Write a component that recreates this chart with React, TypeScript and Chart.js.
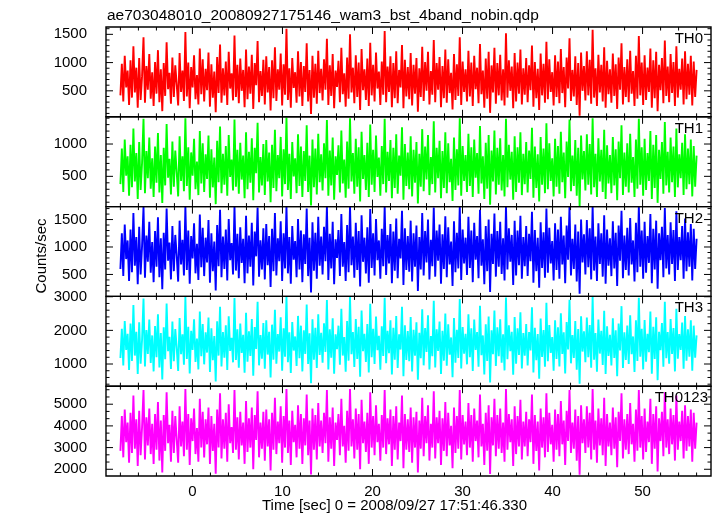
import React, { useEffect, useRef } from "react";
import { Chart, registerables } from "chart.js";

Chart.register(...registerables);

const TITLE = "ae703048010_20080927175146_wam3_bst_4band_nobin.qdp";
const X_LABEL = "Time [sec] 0 = 2008/09/27 17:51:46.330";
const Y_LABEL = "Counts/sec";
const BAND_NAMES = ["TH0", "TH1", "TH2", "TH3", "TH0123"];
const BAND_COLORS = ["#ff0000", "#00ff00", "#0000ff", "#00ffff", "#ff00ff"];
const T_START = -8;
const T_END = 56;
const X_RANGE = [-9.6, 57.6];
const X_TICKS = [0, 10, 20, 30, 40, 50];
const Y_TICKS = [
  [500, 1000, 1500],
  [500, 1000],
  [500, 1000, 1500],
  [1000, 2000, 3000],
  [2000, 3000, 4000, 5000],
];
const Y_RANGES = [
  [40, 1630],
  [32, 1421],
  [100, 1736],
  [340, 3010],
  [1690, 5830],
];
const Y_MAJOR = [500, 500, 500, 1000, 1000];
const Y_SUBS = [5, 5, 5, 5, 3];

const TH0 = [
  420, 980, 310, 1120, 560, 860, 250, 1040, 380, 1290, 470, 910, 200, 1080, 340, 760, 1450, 290, 940, 520,
  1150, 360, 830, 230, 1010, 450, 1220, 300, 880, 140, 990, 410, 1360, 530, 820, 270, 1090, 390, 950, 610,
  240, 1170, 480, 860, 320, 1540, 400, 1000, 190, 920, 560, 1130, 350, 780, 260, 1250, 440, 1060, 310, 890,
  510, 1180, 220, 970, 380, 840, 120, 1100, 460, 1320, 290, 900, 420, 1020, 250, 1190, 540, 810, 330, 1480,
  390, 960, 280, 1070, 500, 870, 210, 1230, 350, 930, 450, 1140, 180, 990, 600, 1380, 300, 850, 410, 1050,
  260, 1110, 470, 920, 150, 1040, 370, 1270, 320, 880, 520, 1160, 240, 970, 430, 1600, 340, 900, 200, 1080,
  550, 830, 290, 1200, 400, 1010, 230, 940, 480, 1340, 310, 870, 90, 1120, 380, 980, 270, 1210, 460, 890,
  330, 1060, 520, 1420, 250, 950, 410, 1150, 190, 860, 570, 1030, 300, 1260, 440, 810, 220, 1090, 360, 1500,
  470, 910, 280, 1130, 390, 1000, 160, 1240, 510, 880, 340, 1070, 230, 1350, 420, 960, 310, 1180, 540, 840,
  250, 1020, 430, 1560, 300, 930, 480, 1110, 210, 990, 370, 1200, 280, 870, 560, 1310, 190, 1050, 400, 920,
  350, 1170, 240, 960, 450, 1080, 130, 900, 390, 1280, 320, 1010, 500, 1190, 260, 850, 430, 1400, 300, 990,
  520, 1100, 210, 940, 370, 1230, 290, 1060, 460, 820, 170, 1150, 340, 970, 410, 1450, 250, 1020, 480, 880,
  310, 1210, 400, 1000, 230, 1120, 530, 910, 280, 1330, 440, 860, 200, 1070, 360, 1190, 110, 950, 470, 1260,
  270, 990, 420, 1140, 330, 880, 240, 1520, 380, 1040, 500, 930, 190, 1170, 310, 1000, 450, 1230, 260, 900,
  430, 1080, 300, 950, 510, 1300, 220, 1010, 370, 890, 160, 1160, 420, 980, 290, 1370, 350, 1060, 480, 830,
  240, 1130, 390, 1020, 280, 1240, 460, 920, 210, 1090, 540, 1430, 320, 870, 400, 1110, 250, 990, 60, 1180,
  500, 940, 330, 1200, 420, 1050, 270, 1580, 380, 900, 230, 1140, 470, 960, 310, 1270, 200, 1030, 440, 880,
  290, 1160, 410, 970, 180, 1090, 520, 1340, 260, 920, 390, 1060, 300, 1210, 450, 850, 230, 1120, 360, 1470,
  420, 1000, 250, 1130, 340, 910, 480, 1250, 200, 1040, 370, 1190, 140, 960, 510, 1080, 280, 1390, 410, 930,
  300, 1150, 460, 1010, 230, 1290, 380, 890, 520, 1070, 260, 1200, 350, 980, 430, 1120, 240, 1020, 390, 870,
];

const TH1 = [
  380, 930, 260, 1070, 510, 810, 200, 990, 330, 1240, 420, 860, 150, 1030, 290, 710, 1390, 240, 890, 470,
  1100, 310, 780, 180, 960, 400, 1170, 250, 830, 90, 940, 360, 1310, 480, 770, 220, 1040, 340, 900, 560,
  190, 1120, 430, 810, 270, 1400, 350, 950, 140, 870, 510, 1080, 300, 730, 210, 1200, 390, 1010, 260, 840,
  460, 1130, 170, 920, 330, 790, 70, 1050, 410, 1270, 240, 850, 370, 970, 200, 1140, 490, 760, 280, 1380,
  340, 910, 230, 1020, 450, 820, 160, 1180, 300, 880, 400, 1090, 130, 940, 550, 1330, 250, 800, 360, 1000,
  210, 1060, 420, 870, 100, 990, 320, 1220, 270, 830, 470, 1110, 190, 920, 380, 1410, 290, 850, 150, 1030,
  500, 780, 240, 1150, 350, 960, 180, 890, 430, 1290, 260, 820, 50, 1070, 330, 930, 220, 1160, 410, 840,
  280, 1010, 470, 1370, 200, 900, 360, 1100, 140, 810, 520, 980, 250, 1210, 390, 760, 170, 1040, 310, 1400,
  420, 860, 230, 1080, 340, 950, 110, 1190, 460, 830, 290, 1020, 180, 1300, 370, 910, 260, 1130, 490, 790,
  200, 970, 380, 1390, 250, 880, 430, 1060, 160, 940, 320, 1150, 230, 820, 510, 1260, 140, 1000, 350, 870,
  300, 1120, 190, 910, 400, 1030, 80, 850, 340, 1230, 270, 960, 450, 1140, 210, 800, 380, 1350, 250, 940,
  470, 1050, 160, 890, 320, 1180, 240, 1010, 410, 770, 120, 1100, 290, 920, 360, 1400, 200, 970, 430, 830,
  260, 1160, 350, 950, 180, 1070, 480, 860, 230, 1280, 390, 810, 150, 1020, 310, 1140, 60, 900, 420, 1210,
  220, 940, 370, 1090, 280, 830, 190, 1390, 330, 990, 450, 880, 140, 1120, 260, 950, 400, 1180, 210, 850,
  380, 1030, 250, 900, 460, 1250, 170, 960, 320, 840, 110, 1110, 370, 930, 240, 1320, 300, 1010, 430, 780,
  190, 1080, 340, 970, 230, 1190, 410, 870, 160, 1040, 490, 1380, 270, 820, 350, 1060, 200, 940, 40, 1130,
  450, 890, 280, 1150, 370, 1000, 220, 1400, 330, 850, 180, 1090, 420, 910, 260, 1220, 150, 980, 390, 830,
  240, 1110, 360, 920, 130, 1040, 470, 1290, 210, 870, 340, 1010, 250, 1160, 400, 800, 180, 1070, 310, 1390,
  370, 950, 200, 1080, 290, 860, 430, 1200, 150, 990, 320, 1140, 90, 910, 460, 1030, 230, 1340, 360, 880,
  250, 1100, 410, 960, 180, 1240, 330, 840, 470, 1020, 210, 1150, 300, 930, 380, 1070, 190, 970, 340, 820,
];

const TH2 = [
  600, 1250, 470, 1410, 780, 1120, 380, 1320, 540, 1620, 660, 1180, 320, 1370, 500, 1020, 1730, 440, 1210, 730,
  1460, 530, 1090, 360, 1290, 640, 1540, 450, 1160, 230, 1260, 590, 1700, 750, 1080, 410, 1380, 560, 1220, 840,
  370, 1480, 680, 1130, 480, 1740, 580, 1300, 330, 1200, 790, 1430, 520, 1060, 400, 1590, 630, 1350, 470, 1170,
  720, 1490, 350, 1250, 560, 1100, 210, 1400, 650, 1680, 450, 1190, 600, 1320, 390, 1510, 760, 1070, 500, 1740,
  570, 1240, 430, 1360, 710, 1150, 340, 1570, 520, 1210, 640, 1440, 300, 1280, 830, 1720, 460, 1120, 590, 1340,
  410, 1420, 670, 1200, 270, 1330, 560, 1620, 480, 1160, 740, 1470, 380, 1250, 610, 1740, 520, 1180, 330, 1380,
  770, 1110, 450, 1510, 590, 1300, 360, 1230, 690, 1700, 470, 1170, 170, 1450, 570, 1260, 420, 1550, 660, 1190,
  500, 1370, 740, 1740, 400, 1240, 610, 1460, 320, 1140, 800, 1310, 470, 1600, 640, 1090, 380, 1400, 540, 1740,
  670, 1190, 440, 1440, 580, 1290, 280, 1580, 730, 1170, 520, 1360, 350, 1690, 620, 1250, 480, 1510, 760, 1120,
  420, 1330, 650, 1740, 490, 1220, 700, 1420, 340, 1280, 570, 1520, 430, 1150, 790, 1660, 310, 1340, 580, 1200,
  550, 1480, 370, 1250, 640, 1390, 200, 1180, 590, 1620, 480, 1290, 720, 1500, 410, 1130, 650, 1720, 460, 1300,
  750, 1410, 330, 1230, 600, 1560, 450, 1360, 680, 1100, 290, 1470, 540, 1260, 610, 1740, 400, 1320, 700, 1170,
  490, 1550, 620, 1300, 360, 1440, 770, 1200, 430, 1680, 660, 1140, 320, 1380, 560, 1500, 180, 1240, 690, 1610,
  460, 1290, 640, 1460, 510, 1160, 390, 1740, 590, 1340, 730, 1220, 310, 1480, 480, 1300, 670, 1570, 420, 1180,
  650, 1380, 470, 1240, 740, 1640, 350, 1310, 560, 1170, 260, 1450, 620, 1270, 440, 1700, 530, 1350, 700, 1110,
  390, 1430, 580, 1320, 420, 1550, 680, 1210, 340, 1390, 770, 1740, 480, 1150, 600, 1410, 370, 1280, 150, 1500,
  720, 1230, 500, 1490, 630, 1340, 410, 1740, 570, 1190, 380, 1430, 690, 1250, 460, 1580, 330, 1320, 660, 1160,
  470, 1470, 610, 1260, 290, 1390, 750, 1660, 430, 1210, 580, 1350, 480, 1530, 680, 1120, 370, 1440, 540, 1740,
  640, 1300, 420, 1460, 530, 1200, 710, 1600, 340, 1330, 590, 1480, 240, 1250, 760, 1370, 450, 1710, 610, 1220,
  500, 1450, 690, 1310, 380, 1650, 580, 1180, 760, 1380, 420, 1520, 560, 1270, 640, 1420, 390, 1330, 600, 1150,
];

const TH3 = [
  1180, 2050, 960, 2280, 1420, 1900, 820, 2200, 1090, 2750, 1250, 1960, 700, 2240, 1010, 1720, 2950, 930, 2010, 1300,
  2320, 1030, 1850, 780, 2130, 1200, 2480, 900, 1920, 540, 2090, 1140, 2800, 1380, 1810, 850, 2260, 1080, 2040, 1480,
  790, 2370, 1290, 1880, 980, 2990, 1150, 2110, 720, 1990, 1420, 2330, 1060, 1760, 840, 2560, 1230, 2190, 990, 1940,
  1340, 2380, 760, 2060, 1110, 1830, 480, 2270, 1250, 2700, 930, 1950, 1190, 2150, 820, 2420, 1390, 1780, 1050, 2960,
  1120, 2030, 890, 2200, 1330, 1870, 740, 2520, 1070, 1970, 1240, 2340, 650, 2100, 1450, 2850, 960, 1860, 1160, 2220,
  860, 2300, 1280, 1960, 600, 2170, 1130, 2610, 1010, 1890, 1370, 2390, 800, 2060, 1220, 3000, 1050, 1940, 730, 2250,
  1400, 1820, 940, 2430, 1170, 2140, 780, 2000, 1300, 2770, 1000, 1910, 430, 2330, 1130, 2080, 880, 2480, 1270, 1930,
  1040, 2210, 1360, 2900, 840, 2030, 1190, 2360, 710, 1880, 1440, 2140, 980, 2640, 1250, 1800, 770, 2280, 1100, 2990,
  1290, 1950, 910, 2340, 1150, 2110, 620, 2590, 1380, 1900, 1060, 2190, 750, 2790, 1200, 2050, 1000, 2410, 1410, 1840,
  830, 2120, 1240, 2970, 1020, 1990, 1320, 2300, 690, 2080, 1130, 2430, 880, 1880, 1430, 2700, 640, 2150, 1120, 1980,
  1080, 2400, 780, 2020, 1250, 2240, 530, 1930, 1170, 2630, 960, 2070, 1360, 2450, 840, 1830, 1230, 2880, 900, 2030,
  1390, 2260, 700, 1990, 1100, 2500, 950, 2180, 1280, 1790, 610, 2370, 1040, 2020, 1180, 2930, 870, 2100, 1310, 1900,
  990, 2480, 1200, 2060, 790, 2320, 1420, 1950, 920, 2730, 1260, 1850, 690, 2180, 1090, 2410, 450, 2000, 1290, 2590,
  940, 2090, 1230, 2330, 1040, 1880, 810, 2980, 1140, 2150, 1380, 1960, 680, 2400, 1010, 2060, 1270, 2540, 870, 1920,
  1250, 2190, 960, 1950, 1400, 2690, 750, 2080, 1110, 1890, 560, 2350, 1210, 2010, 920, 2820, 1080, 2160, 1330, 1800,
  800, 2300, 1150, 2090, 930, 2510, 1300, 1940, 720, 2250, 1430, 2910, 1020, 1860, 1180, 2280, 830, 2040, 410, 2420,
  1370, 1970, 1050, 2380, 1200, 2160, 890, 2990, 1130, 1920, 770, 2320, 1310, 1990, 970, 2580, 700, 2120, 1240, 1870,
  960, 2360, 1180, 2000, 640, 2200, 1400, 2720, 880, 1940, 1120, 2140, 1000, 2450, 1290, 1820, 760, 2300, 1090, 2970,
  1220, 2050, 840, 2310, 1070, 1900, 1350, 2560, 710, 2110, 1150, 2390, 520, 1960, 1410, 2220, 920, 2850, 1170, 1950,
  1010, 2340, 1300, 2070, 780, 2640, 1160, 1890, 1420, 2230, 860, 2430, 1100, 2030, 1220, 2300, 800, 2140, 1190, 1850,
];

const TH0123 = [
  2850, 4450, 2550, 4750, 3250, 4150, 2300, 4600, 2750, 5400, 2950, 4300, 2150, 4700, 2650, 3950, 5650, 2450, 4400, 3100,
  4800, 2700, 4100, 2250, 4550, 2900, 5100, 2400, 4250, 1850, 4500, 2850, 5550, 3200, 4050, 2350, 4700, 2750, 4450, 3350,
  2300, 4900, 3050, 4200, 2600, 5700, 2900, 4550, 2200, 4350, 3300, 4800, 2700, 3900, 2350, 5250, 3000, 4650, 2550, 4300,
  3150, 4850, 2250, 4450, 2850, 4100, 1800, 4750, 3000, 5500, 2500, 4300, 2950, 4600, 2350, 5000, 3200, 3950, 2750, 5650,
  2900, 4400, 2450, 4650, 3100, 4150, 2250, 5150, 2800, 4350, 3000, 4850, 2000, 4500, 3350, 5600, 2550, 4150, 2950, 4650,
  2400, 4750, 3050, 4300, 1950, 4600, 2900, 5300, 2700, 4200, 3200, 4900, 2300, 4450, 3000, 5700, 2750, 4250, 2200, 4700,
  3250, 4050, 2550, 4950, 2950, 4550, 2250, 4350, 3100, 5450, 2650, 4250, 1760, 4800, 2900, 4500, 2450, 5050, 3050, 4250,
  2750, 4600, 3200, 5650, 2350, 4400, 2950, 4850, 2150, 4150, 3350, 4550, 2650, 5250, 3050, 4000, 2300, 4700, 2850, 5700,
  3050, 4300, 2500, 4800, 2900, 4550, 2000, 5200, 3200, 4200, 2800, 4600, 2250, 5550, 3000, 4450, 2650, 4950, 3250, 4100,
  2400, 4500, 3000, 5650, 2700, 4350, 3150, 4750, 2150, 4450, 2900, 4900, 2450, 4150, 3300, 5400, 2050, 4550, 2900, 4300,
  2800, 4850, 2300, 4400, 3000, 4650, 1850, 4250, 2950, 5300, 2600, 4450, 3200, 4950, 2400, 4100, 3000, 5600, 2500, 4400,
  3200, 4700, 2200, 4350, 2850, 5100, 2600, 4600, 3100, 4000, 2050, 4850, 2750, 4450, 2950, 5650, 2450, 4500, 3150, 4200,
  2650, 5050, 3000, 4500, 2350, 4800, 3300, 4250, 2550, 5450, 3050, 4100, 2200, 4600, 2850, 4950, 1780, 4400, 3100, 5250,
  2600, 4500, 2950, 4800, 2750, 4150, 2350, 5700, 2900, 4550, 3250, 4300, 2150, 4900, 2700, 4450, 3050, 5200, 2450, 4200,
  3050, 4650, 2600, 4300, 3250, 5450, 2250, 4500, 2850, 4200, 1950, 4800, 3000, 4400, 2550, 5500, 2800, 4600, 3150, 4050,
  2350, 4750, 2900, 4550, 2600, 5150, 3150, 4250, 2200, 4700, 3300, 5650, 2750, 4150, 2950, 4750, 2400, 4450, 1750, 4950,
  3200, 4300, 2750, 4900, 3000, 4600, 2450, 5700, 2900, 4250, 2300, 4800, 3100, 4350, 2650, 5300, 2150, 4550, 3050, 4150,
  2650, 4850, 2950, 4400, 2100, 4650, 3300, 5500, 2500, 4300, 2900, 4550, 2700, 5050, 3150, 4100, 2350, 4750, 2850, 5650,
  3000, 4450, 2450, 4800, 2800, 4200, 3250, 5250, 2250, 4550, 2950, 4900, 1900, 4350, 3300, 4650, 2600, 5550, 3000, 4300,
  2700, 4800, 3150, 4500, 2400, 5400, 2900, 4200, 3300, 4700, 2500, 4950, 2850, 4450, 3050, 4750, 2350, 4600, 2950, 4150,
];

const SERIES = [TH0, TH1, TH2, TH3, TH0123];
const FONT = "'Liberation Sans', Arial, Helvetica, sans-serif";

const framePlugin = {
  id: "qdpFrames",
  afterDatasetsDraw(chart: any) {
    const ctx = chart.ctx;
    const area = chart.chartArea;
    const xs = chart.scales.x;
    ctx.save();
    ctx.strokeStyle = "#000";
    for (let i = 0; i < BAND_NAMES.length; i++) {
      const ys = chart.scales["y" + i];
      const top = ys.top;
      const bottom = ys.bottom;
      ctx.lineWidth = 1.4;
      ctx.beginPath();
      ctx.rect(area.left, top, area.right - area.left, bottom - top);
      ctx.stroke();
      ctx.lineWidth = 1;
      ctx.beginPath();
      const xStart = Math.ceil(xs.min / 2) * 2;
      for (let t = xStart; t <= xs.max; t += 2) {
        const px = xs.getPixelForValue(t);
        const len = t % 10 === 0 ? 7 : 3.5;
        ctx.moveTo(px, bottom);
        ctx.lineTo(px, bottom - len);
        ctx.moveTo(px, top);
        ctx.lineTo(px, top + len);
      }
      const step = Y_MAJOR[i] / Y_SUBS[i];
      const yStart = Math.ceil(ys.min / step - 1e-9);
      for (let k = yStart; k * step <= ys.max; k++) {
        const v = k * step;
        const py = ys.getPixelForValue(v);
        const major = k % Y_SUBS[i] === 0;
        const len = major ? 7 : 3.5;
        ctx.moveTo(area.left, py);
        ctx.lineTo(area.left + len, py);
        ctx.moveTo(area.right, py);
        ctx.lineTo(area.right - len, py);
      }
      ctx.stroke();
      ctx.fillStyle = "#000";
      ctx.font = "15px " + FONT;
      ctx.textAlign = "right";
      ctx.textBaseline = "alphabetic";
      ctx.fillText(BAND_NAMES[i], i === 4 ? area.right - 3 : area.right - 8, top + 16);
    }
    ctx.fillStyle = "#000";
    ctx.font = "15.5px " + FONT;
    ctx.textAlign = "left";
    ctx.textBaseline = "alphabetic";
    ctx.fillText(TITLE, 107, 20);
    ctx.font = "15px " + FONT;
    ctx.fillText(X_LABEL, 262, 510);
    ctx.save();
    ctx.translate(42, 256);
    ctx.rotate(-Math.PI / 2);
    ctx.textAlign = "center";
    ctx.textBaseline = "middle";
    ctx.fillText(Y_LABEL, 0, 0);
    ctx.restore();
    ctx.restore();
  },
};

export default function App() {
  const ref = useRef<HTMLCanvasElement | null>(null);
  useEffect(() => {
    if (!ref.current) return;
    const datasets = SERIES.map((vals, i) => ({
      label: BAND_NAMES[i],
      data: vals.map((v, k) => ({ x: T_START + (k * (T_END - T_START)) / (vals.length - 1), y: v })),
      borderColor: BAND_COLORS[i],
      backgroundColor: BAND_COLORS[i],
      borderWidth: 1.9,
      pointRadius: 0,
      tension: 0,
      fill: false,
      xAxisID: "x",
      yAxisID: "y" + i,
    }));
    const scales: any = {
      x: {
        type: "linear",
        position: "bottom",
        min: X_RANGE[0],
        max: X_RANGE[1],
        grid: { display: false },
        border: { display: false },
        ticks: {
          color: "#000",
          font: { family: FONT, size: 15 },
          padding: -1,
          autoSkip: false,
          maxRotation: 0,
          callback: (v: any) => String(v),
        },
        afterBuildTicks: (s: any) => {
          s.ticks = X_TICKS.map((v) => ({ value: v }));
        },
        afterFit: (s: any) => {
          s.height = 40;
        },
      },
    };
    BAND_NAMES.forEach((_, i) => {
      scales["y" + i] = {
        type: "linear",
        position: "left",
        stack: "bands",
        stackWeight: 1,
        weight: BAND_NAMES.length - i,
        min: Y_RANGES[i][0],
        max: Y_RANGES[i][1],
        grid: { display: false },
        border: { display: false },
        ticks: {
          color: "#000",
          font: { family: FONT, size: 15 },
          padding: 11,
          autoSkip: false,
          callback: (v: any) => String(v),
        },
        afterBuildTicks: (s: any) => {
          s.ticks = Y_TICKS[i].map((v) => ({ value: v }));
        },
        afterFit: (s: any) => {
          s.width = 106;
        },
      };
    });
    const chart = new Chart(ref.current, {
      type: "line",
      data: { datasets },
      options: {
        animation: false,
        responsive: false,
        maintainAspectRatio: false,
        devicePixelRatio: 1,
        layout: { padding: { left: 0, right: 6, top: 27, bottom: 0 } },
        plugins: { legend: { display: false }, tooltip: { enabled: false }, title: { display: false } },
        scales,
      },
      plugins: [framePlugin],
    } as any);
    return () => chart.destroy();
  }, []);
  return (
    <div style={{ position: "absolute", left: 0, top: 0, width: 717, height: 516, background: "#fff" }}>
      <canvas ref={ref} width={717} height={516} />
    </div>
  );
}
